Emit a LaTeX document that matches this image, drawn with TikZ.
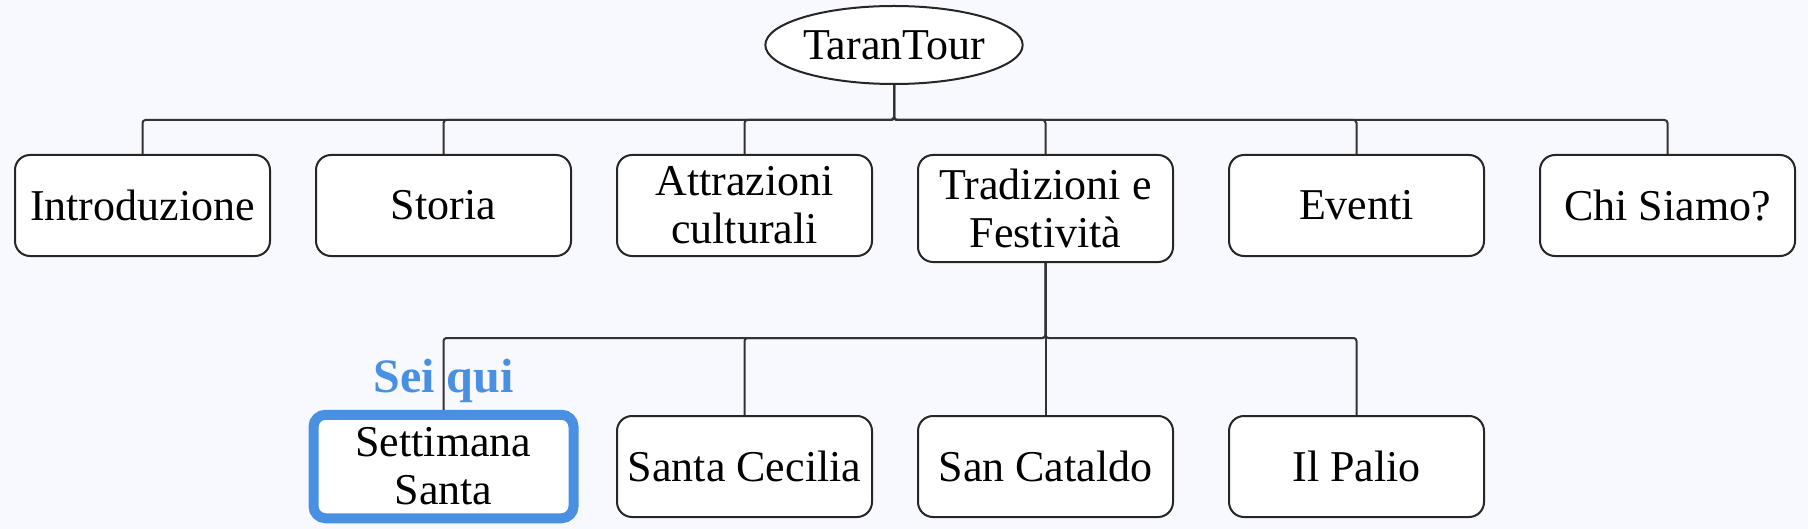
\documentclass[tikz,border=0pt]{standalone}
\usepackage{fontspec}
\setmainfont{Liberation Serif}
\usepackage{tikz}
\usetikzlibrary{positioning, shapes.geometric}
\definecolor{sfondo}{RGB}{248,248,255}
\definecolor{blu_qui}{RGB}{74,144,226}
\definecolor{linea}{RGB}{51,51,51}
\tikzset{
    box_radice/.style={ellipse, draw=black!85, fill=white, line width=1pt, minimum width=126.5pt, minimum height=39pt, inner sep=0pt},
    ramo/.style={draw=linea, line width=1pt, rounded corners=1.5pt}
}

\begin{document}
\begin{tikzpicture}[
            font=\fontsize{22}{24}\selectfont,
            % Stile base per tutti i riquadri
            base/.style={
                rectangle, draw=black!85, fill=white, line width=1pt, align=center, rounded corners=7.5pt, inner sep=4pt
            },
            % Voci del menu
            box_menu/.style={
                base, minimum width=127.5pt, minimum height=50.5pt
            },
            % Pagina corrente
            box_qui/.style={
                base, draw=blu_qui, line width=5pt, rounded corners=6pt, minimum width=130pt, minimum height=51.75pt
            },
            etichetta/.style={text=blu_qui, font=\fontsize{24}{26}\selectfont\bfseries, inner sep=0pt}
        ]

            % Sfondo e dimensioni
            \path[use as bounding box, fill=sfondo] (0,0) rectangle (904pt,-264.5pt);

            % 1. Radice
            \node[box_radice] (radice) at (447pt,-22.5pt) {TaranTour};

            % 2. Prima fila
            \node[box_menu, anchor=north west] (intro) at (7pt,-77pt) {Introduzione};
            \node[box_menu, right=22pt of intro] (storia) {Storia};
            \node[box_menu, right=22pt of storia] (attrazioni) {Attrazioni\\culturali};
            \node[box_menu, right=22pt of attrazioni, minimum height=53.5pt, yshift=-1.5pt] (tradizioni) {Tradizioni e\\Festività};
            \node[box_menu, right=27pt of tradizioni, yshift=1.5pt] (eventi) {Eventi};
            \node[box_menu, right=27pt of eventi] (chisiamo) {Chi Siamo?};

            % 3. Seconda fila, sotto le voci corrispondenti
            \coordinate (fila_sotto) at (0,-233.25pt);
            \node[box_qui] (settimana) at (storia |- fila_sotto) {Settimana\\Santa};
            \node[box_menu] (cecilia) at (attrazioni |- fila_sotto) {Santa Cecilia};
            \node[box_menu] (cataldo) at (tradizioni |- fila_sotto) {San Cataldo};
            \node[box_menu] (palio) at (eventi |- fila_sotto) {Il Palio};

            \node[etichetta, above=3.5pt of settimana] (seiqui) {Sei qui};

            % --- CONNESSIONI ---
            \coordinate (bivio_radice) at ([yshift=-17.5pt]radice.south);
            \coordinate (bivio_trad) at ([yshift=-37.5pt]tradizioni.south);

            \draw[ramo] (radice.south) -- (bivio_radice) -| (intro.north);
            \draw[ramo] (radice.south) -- (bivio_radice) -| (storia.north);
            \draw[ramo] (radice.south) -- (bivio_radice) -| (attrazioni.north);
            \draw[ramo] (radice.south) -- (bivio_radice) -| (tradizioni.north);
            \draw[ramo] (radice.south) -- (bivio_radice) -| (eventi.north);
            \draw[ramo] (radice.south) -- (bivio_radice) -| (chisiamo.north);

            \draw[ramo] (tradizioni.south) -- (bivio_trad) -| (settimana.north);
            \draw[ramo] (tradizioni.south) -- (bivio_trad) -| (cecilia.north);
            \draw[ramo] (tradizioni.south) -- (cataldo.north);
            \draw[ramo] (tradizioni.south) -- (bivio_trad) -| (palio.north);

        \end{tikzpicture}
\end{document}
